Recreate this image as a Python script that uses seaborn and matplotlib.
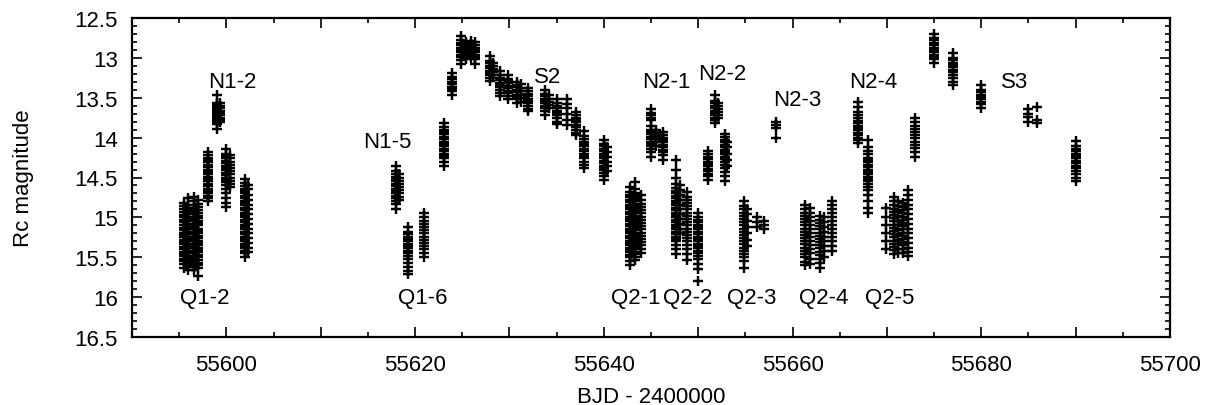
import matplotlib
matplotlib.use("Agg")
import matplotlib.pyplot as plt
import seaborn as sns
import pandas as pd
from matplotlib.ticker import MultipleLocator, FuncFormatter

# ---------------- data ----------------
# Part 1: first outburst region (Q1-2, N1-2)
p1_bjd = [55595.5, 55595.9, 55596.6, 55597.0, 55598.1, 55599.0, 55599.3, 55600.0,
          55600.4, 55602.0, 55602.3]
p1_mag = [
    [14.82, 14.86, 14.9, 14.93, 14.97, 15.0, 15.03, 15.06, 15.1, 15.13, 15.16, 15.19,
     15.22, 15.25, 15.28, 15.31, 15.34, 15.37, 15.4, 15.43, 15.46, 15.49, 15.52, 15.55,
     15.59, 15.63],
    [14.76, 14.84, 14.88, 14.92, 14.95, 14.99, 15.02, 15.05, 15.08, 15.12, 15.15, 15.18,
     15.21, 15.24, 15.27, 15.3, 15.33, 15.36, 15.39, 15.42, 15.45, 15.48, 15.51, 15.54,
     15.57, 15.61, 15.66],
    [14.74, 14.8, 14.85, 14.89, 14.92, 14.96, 14.99, 15.02, 15.05, 15.09, 15.12, 15.15,
     15.18, 15.21, 15.24, 15.27, 15.3, 15.33, 15.36, 15.39, 15.42, 15.45, 15.49, 15.52,
     15.55, 15.58, 15.62, 15.66],
    [14.78, 14.83, 14.87, 14.91, 14.95, 14.98, 15.01, 15.04, 15.07, 15.1, 15.14, 15.17,
     15.2, 15.23, 15.26, 15.29, 15.32, 15.35, 15.38, 15.41, 15.44, 15.47, 15.5, 15.53,
     15.57, 15.6, 15.64, 15.74],
    [14.18, 14.22, 14.25, 14.28, 14.31, 14.34, 14.37, 14.4, 14.43, 14.46, 14.49, 14.52,
     14.55, 14.58, 14.61, 14.64, 14.67, 14.7, 14.73, 14.76, 14.8],
    [13.47, 13.56, 13.58, 13.6, 13.62, 13.64, 13.66, 13.68, 13.7, 13.72, 13.74, 13.76,
     13.78, 13.8, 13.83, 13.89],
    [13.57, 13.6, 13.63, 13.66, 13.69, 13.72, 13.75, 13.78, 13.81],
    [14.14, 14.2, 14.23, 14.26, 14.29, 14.32, 14.35, 14.38, 14.41, 14.44, 14.47, 14.5,
     14.53, 14.56, 14.6, 14.64, 14.7, 14.76, 14.82, 14.87],
    [14.22, 14.26, 14.3, 14.34, 14.38, 14.42, 14.46, 14.5, 14.54, 14.58, 14.62],
    [14.52, 14.57, 14.61, 14.64, 14.67, 14.7, 14.73, 14.76, 14.79, 14.82, 14.85, 14.88,
     14.91, 14.94, 14.97, 15.0, 15.03, 15.06, 15.09, 15.12, 15.15, 15.18, 15.21, 15.24,
     15.27, 15.3, 15.33, 15.36, 15.39, 15.42, 15.45, 15.5],
    [14.6, 14.65, 14.72, 14.78, 14.84, 14.9, 14.96, 15.02, 15.08, 15.14, 15.2, 15.26,
     15.32, 15.38, 15.44],
]

# Part 2: N1-5, Q1-6 and superoutburst S2
p2_bjd = [55618.0, 55618.3, 55619.2, 55620.9, 55623.1, 55623.9, 55624.9, 55625.4,
          55625.9, 55626.4, 55627.9, 55628.3, 55629.0, 55629.8, 55630.8, 55631.2,
          55632.0, 55633.8, 55634.2, 55635.0, 55636.1, 55637.0, 55637.9, 55640.0,
          55640.3]
p2_mag = [
    [14.35, 14.42, 14.46, 14.49, 14.52, 14.55, 14.58, 14.61, 14.64, 14.67, 14.7, 14.73,
     14.76, 14.79, 14.83, 14.9],
    [14.45, 14.5, 14.54, 14.58, 14.62, 14.66, 14.7, 14.74, 14.78],
    [15.12, 15.18, 15.21, 15.24, 15.27, 15.3, 15.33, 15.36, 15.39, 15.42, 15.45, 15.48,
     15.52, 15.57, 15.62, 15.67, 15.71],
    [14.95, 15.0, 15.04, 15.08, 15.12, 15.16, 15.2, 15.24, 15.28, 15.32, 15.36, 15.4,
     15.45, 15.5],
    [13.82, 13.87, 13.9, 13.93, 13.96, 13.99, 14.02, 14.05, 14.08, 14.11, 14.14, 14.17,
     14.2, 14.23, 14.26, 14.3, 14.36],
    [13.19, 13.24, 13.27, 13.3, 13.33, 13.36, 13.39, 13.42, 13.47],
    [12.72, 12.78, 12.81, 12.84, 12.87, 12.9, 12.93, 12.96, 12.99, 13.03, 13.08],
    [12.8, 12.83, 12.86, 12.89, 12.92, 12.95, 12.98, 13.01],
    [12.79, 12.82, 12.85, 12.88, 12.91, 12.94, 12.97, 13.0],
    [12.8, 12.84, 12.87, 12.9, 12.93, 12.96, 12.99, 13.02, 13.08],
    [12.98, 13.04, 13.07, 13.1, 13.13, 13.16, 13.19, 13.22, 13.25, 13.29],
    [13.06, 13.1, 13.14, 13.18, 13.22],
    [13.17, 13.22, 13.25, 13.28, 13.31, 13.34, 13.37, 13.4, 13.44, 13.48],
    [13.21, 13.26, 13.29, 13.32, 13.35, 13.38, 13.41, 13.44, 13.48, 13.52],
    [13.3, 13.34, 13.37, 13.4, 13.43, 13.46, 13.49, 13.52, 13.56],
    [13.33, 13.38, 13.42, 13.46, 13.5, 13.55],
    [13.38, 13.42, 13.45, 13.48, 13.51, 13.54, 13.57, 13.6, 13.64, 13.67],
    [13.4, 13.45, 13.48, 13.51, 13.54, 13.57, 13.6, 13.63, 13.67, 13.72],
    [13.47, 13.51, 13.55, 13.59, 13.63],
    [13.52, 13.57, 13.6, 13.63, 13.66, 13.69, 13.72, 13.75, 13.8, 13.83],
    [13.52, 13.58, 13.63, 13.7, 13.78, 13.84],
    [13.68, 13.72, 13.75, 13.78, 13.81, 13.84, 13.87, 13.9, 13.94, 13.97],
    [13.92, 13.98, 14.02, 14.05, 14.08, 14.11, 14.14, 14.17, 14.2, 14.23, 14.26, 14.3,
     14.34, 14.38],
    [14.03, 14.08, 14.11, 14.14, 14.17, 14.2, 14.23, 14.26, 14.29, 14.32, 14.35, 14.38,
     14.41, 14.44, 14.48, 14.53],
    [14.12, 14.18, 14.24, 14.3, 14.36, 14.42],
]

# Part 3: Q2-x, N2-x and superoutburst S3
p3_bjd = [55642.8, 55643.3, 55643.9, 55645.0, 55645.5, 55646.3, 55647.7, 55648.1,
          55648.8, 55650.0, 55651.0, 55651.8, 55652.1, 55652.8, 55653.1, 55654.9,
          55655.2, 55656.2, 55657.0, 55658.2, 55661.3, 55661.9, 55662.9, 55663.3,
          55664.2, 55666.9, 55668.0, 55669.9, 55670.7, 55671.2, 55671.7, 55672.2,
          55673.0, 55675.0, 55677.0, 55680.0, 55684.9, 55685.9, 55690.0]
p3_mag = [
    [14.62, 14.68, 14.72, 14.75, 14.78, 14.81, 14.84, 14.87, 14.9, 14.93, 14.96, 14.99,
     15.02, 15.05, 15.08, 15.11, 15.14, 15.17, 15.2, 15.23, 15.26, 15.29, 15.32, 15.35,
     15.38, 15.41, 15.44, 15.47, 15.5, 15.55, 15.6],
    [14.56, 14.64, 14.7, 14.74, 14.77, 14.8, 14.83, 14.86, 14.89, 14.92, 14.95, 14.98,
     15.01, 15.04, 15.07, 15.1, 15.13, 15.16, 15.19, 15.22, 15.25, 15.28, 15.31, 15.34,
     15.37, 15.4, 15.43, 15.46, 15.5, 15.54],
    [14.72, 14.78, 14.83, 14.87, 14.91, 14.95, 14.99, 15.03, 15.07, 15.11, 15.15, 15.19,
     15.23, 15.27, 15.31, 15.35, 15.4, 15.45],
    [13.64, 13.69, 13.72, 13.75, 13.78, 13.86, 13.9, 13.93, 13.96, 13.99, 14.02, 14.05,
     14.08, 14.11, 14.14, 14.18, 14.24],
    [13.9, 13.94, 13.98, 14.02, 14.06, 14.1],
    [13.93, 13.97, 14.0, 14.03, 14.06, 14.09, 14.12, 14.15, 14.18, 14.22, 14.28],
    [14.28, 14.4, 14.5, 14.58, 14.63, 14.67, 14.7, 14.73, 14.76, 14.79, 14.82, 14.85,
     14.88, 14.91, 14.94, 14.97, 15.0, 15.03, 15.06, 15.09, 15.12, 15.15, 15.18, 15.21,
     15.24, 15.27, 15.3, 15.35, 15.4, 15.46],
    [14.6, 14.66, 14.72, 14.78, 14.84, 14.9, 14.96, 15.02, 15.08, 15.14, 15.2],
    [14.68, 14.74, 14.78, 14.82, 14.86, 14.9, 14.94, 14.98, 15.02, 15.06, 15.1, 15.14,
     15.18, 15.22, 15.26, 15.3, 15.35, 15.4, 15.46, 15.53],
    [14.95, 15.0, 15.03, 15.06, 15.09, 15.12, 15.15, 15.18, 15.21, 15.24, 15.27, 15.3,
     15.33, 15.36, 15.39, 15.42, 15.45, 15.48, 15.52, 15.58, 15.65, 15.8],
    [14.17, 14.21, 14.24, 14.27, 14.3, 14.33, 14.36, 14.39, 14.42, 14.45, 14.48, 14.53],
    [13.47, 13.54, 13.57, 13.6, 13.63, 13.66, 13.69, 13.72, 13.75, 13.78, 13.82],
    [13.56, 13.6, 13.64, 13.68, 13.72, 13.76],
    [13.95, 13.99, 14.03, 14.06, 14.09, 14.12, 14.15, 14.18, 14.21, 14.24, 14.27, 14.3,
     14.34, 14.38, 14.43, 14.48, 14.54],
    [14.05, 14.12, 14.2, 14.28, 14.36],
    [14.8, 14.86, 14.9, 14.94, 14.98, 15.02, 15.06, 15.1, 15.14, 15.18, 15.22, 15.26,
     15.3, 15.34, 15.38, 15.42, 15.46, 15.5, 15.55, 15.63],
    [14.9, 14.96, 15.04, 15.12, 15.2, 15.28, 15.36],
    [15.0, 15.06, 15.12],
    [15.05, 15.1, 15.15],
    [13.8, 13.84, 13.88, 14.0],
    [14.85, 14.9, 14.94, 14.98, 15.02, 15.06, 15.1, 15.14, 15.18, 15.22, 15.26, 15.3,
     15.34, 15.38, 15.42, 15.46, 15.5, 15.56, 15.6],
    [14.88, 14.95, 15.0, 15.05, 15.1, 15.15, 15.2, 15.25, 15.3, 15.35, 15.4, 15.45,
     15.52, 15.58],
    [14.98, 15.03, 15.07, 15.11, 15.15, 15.19, 15.23, 15.27, 15.31, 15.35, 15.39, 15.43,
     15.47, 15.52, 15.57, 15.63],
    [15.0, 15.06, 15.12, 15.18, 15.24, 15.3, 15.36, 15.42, 15.5],
    [14.8, 14.85, 14.9, 14.95, 15.0, 15.05, 15.1, 15.15, 15.2, 15.25, 15.3, 15.36, 15.42],
    [13.55, 13.62, 13.68, 13.72, 13.76, 13.79, 13.82, 13.85, 13.88, 13.91, 13.94, 13.97,
     14.0, 14.03, 14.07],
    [14.03, 14.12, 14.17, 14.21, 14.25, 14.28, 14.31, 14.34, 14.37, 14.4, 14.43, 14.46,
     14.49, 14.52, 14.55, 14.58, 14.62, 14.66, 14.72, 14.8, 14.88, 14.95],
    [14.88, 15.0, 15.1, 15.2, 15.3, 15.4],
    [14.74, 14.8, 14.85, 14.89, 14.93, 14.97, 15.01, 15.05, 15.09, 15.13, 15.17, 15.21,
     15.25, 15.29, 15.33, 15.37, 15.41, 15.46],
    [14.8, 14.86, 14.92, 14.98, 15.04, 15.1, 15.16, 15.22, 15.28, 15.34, 15.4, 15.45],
    [14.82, 14.87, 14.91, 14.95, 14.99, 15.03, 15.07, 15.11, 15.15, 15.19, 15.23, 15.27,
     15.31, 15.35, 15.4, 15.45],
    [14.66, 14.72, 14.78, 14.84, 14.9, 14.96, 15.02, 15.08, 15.14, 15.2, 15.26, 15.32,
     15.38, 15.44, 15.48],
    [13.75, 13.81, 13.85, 13.89, 13.93, 13.97, 14.01, 14.05, 14.09, 14.13, 14.18, 14.24],
    [12.7, 12.75, 12.78, 12.81, 12.84, 12.87, 12.9, 12.93, 12.96, 12.99, 13.02, 13.06],
    [12.94, 13.0, 13.03, 13.06, 13.09, 13.12, 13.15, 13.18, 13.21, 13.25, 13.3, 13.34],
    [13.34, 13.4, 13.43, 13.46, 13.49, 13.52, 13.55, 13.58, 13.63],
    [13.64, 13.7, 13.74, 13.8],
    [13.62, 13.78, 13.82],
    [14.04, 14.1, 14.14, 14.17, 14.2, 14.23, 14.26, 14.29, 14.32, 14.35, 14.38, 14.42,
     14.46, 14.5, 14.55],
]

# Labels of individual outbursts / quiescent intervals
label_text = ["N1-2", "Q1-2", "N1-5", "Q1-6", "S2", "N2-1", "N2-2", "N2-3", "N2-4", "S3",
              "Q2-1", "Q2-2", "Q2-3", "Q2-4", "Q2-5"]
label_x = [55600.6, 55597.7, 55617.1, 55620.8, 55634.0, 55646.6, 55652.5, 55660.5,
           55668.5, 55683.5, 55643.4, 55648.9, 55655.7, 55663.3, 55670.3]
label_y = [13.3, 16.0, 14.05, 16.0, 13.23, 13.3, 13.2, 13.52, 13.3, 13.3,
           16.0, 16.0, 16.0, 16.0, 16.0]

# ---------------- build table ----------------
rows = []
for bjds, mags in ((p1_bjd, p1_mag), (p2_bjd, p2_mag), (p3_bjd, p3_mag)):
    for t, ms in zip(bjds, mags):
        for m in ms:
            rows.append((t, m))
df = pd.DataFrame(rows, columns=["bjd", "mag"])

# ---------------- plot ----------------
sns.set_theme(style="ticks")
plt.rcParams["font.family"] = ["Liberation Sans", "DejaVu Sans"]
plt.rcParams["text.color"] = "black"
plt.rcParams["axes.labelcolor"] = "black"

fig = plt.figure(figsize=(12.08, 4.06), dpi=100)
ax = fig.add_axes([132 / 1208, 1 - 338 / 406, (1170 - 132) / 1208, (338 - 19) / 406])

sns.scatterplot(data=df, x="bjd", y="mag", marker="+", color="black", s=58,
                linewidth=1.75, ax=ax, legend=False)

ax.set_xlim(55590, 55700)
ax.set_ylim(16.5, 12.5)

ax.xaxis.set_major_locator(MultipleLocator(10))
ax.xaxis.set_minor_locator(MultipleLocator(5))
ax.xaxis.set_major_formatter(FuncFormatter(
    lambda v, p: f"{int(round(v))}" if int(round(v)) % 20 == 0 else ""))
ax.yaxis.set_major_locator(MultipleLocator(0.5))
ax.yaxis.set_minor_locator(MultipleLocator(0.1))
ax.yaxis.set_major_formatter(FuncFormatter(lambda v, p: f"{v:g}"))

ax.tick_params(which="both", direction="in", top=True, right=True, labelsize=16,
               color="black", labelcolor="black")
ax.tick_params(which="major", length=7, width=1.2)
ax.tick_params(axis="y", which="major", pad=10)
ax.tick_params(axis="x", which="major", pad=12)
ax.tick_params(which="minor", length=3.6, width=1.2)
for sp in ax.spines.values():
    sp.set_linewidth(1.6)
    sp.set_color("black")

ax.set_xlabel("BJD - 2400000", fontsize=16)
ax.set_ylabel("Rc magnitude", fontsize=16)
ax.xaxis.set_label_coords(0.5, -0.155)
ax.xaxis.label.set_va("top")
ax.yaxis.set_label_coords(-0.105, 0.5)
ax.yaxis.label.set_va("center")

for t, x, y in zip(label_text, label_x, label_y):
    ax.text(x, y, t, fontsize=16, ha="center", va="center", color="black")

fig.savefig("out.png", dpi=100)
